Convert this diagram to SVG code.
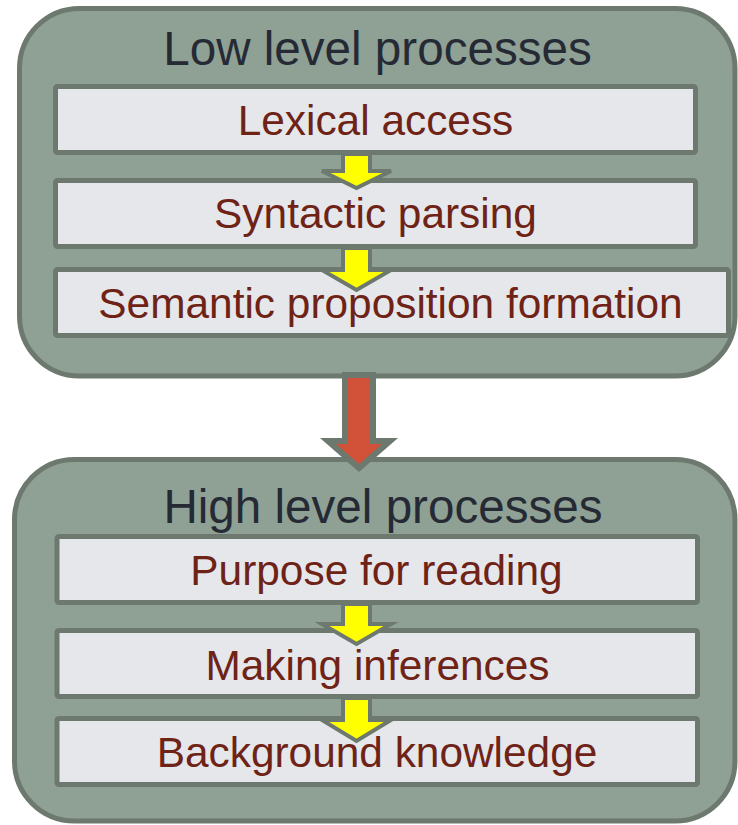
<svg xmlns="http://www.w3.org/2000/svg" width="738" height="825" viewBox="0 0 738 825">
<style>
.cont{fill:#8fa094;stroke:#6d786e;stroke-width:5}
.box{fill:#e6e7eb;stroke:#6d786e;stroke-width:5}
.title{font-family:"Liberation Sans",Arial,sans-serif;font-size:47.6px;fill:#252a35;text-anchor:middle}
.lbl{font-family:"Liberation Sans",Arial,sans-serif;font-size:42.4px;fill:#6e2316;text-anchor:middle}
.ya{fill:#ffff00;stroke:#6d786e;stroke-width:4;stroke-linejoin:miter}
.ra{fill:#d15239;stroke:#6d786e;stroke-width:6;stroke-linejoin:miter}
</style>
<rect width="738" height="825" fill="#ffffff"/>
<g id="low">
<rect class="cont" x="19.5" y="8.5" width="715.5" height="367.5" rx="60" ry="60"/>
<text class="title" x="377.5" y="65">Low level processes</text>
</g>
<g id="high">
<rect class="cont" x="14.5" y="459.5" width="720.5" height="361.5" rx="60" ry="60"/>
<text class="title" x="383" y="523">High level processes</text>
</g>
<g id="lexical">
<rect class="box" x="55.5" y="86.5" width="640" height="66" rx="2"/>
<text class="lbl" x="375.5" y="135">Lexical access</text>
</g>
<g id="syntactic">
<rect class="box" x="55.5" y="180.5" width="640" height="66" rx="2"/>
<text class="lbl" x="375.5" y="228">Syntactic parsing</text>
</g>
<g id="semantic">
<rect class="box" x="55.5" y="269.5" width="673" height="66" rx="2"/>
<text class="lbl" x="390.5" y="318">Semantic proposition formation</text>
</g>
<g id="purpose">
<rect class="box" x="57" y="536.5" width="640.5" height="66" rx="2"/>
<text class="lbl" x="376.5" y="585">Purpose for reading</text>
</g>
<g id="inferences">
<rect class="box" x="57" y="630.5" width="640.5" height="66" rx="2"/>
<text class="lbl" x="377.5" y="680">Making inferences</text>
</g>
<g id="background">
<rect class="box" x="57" y="718.5" width="640.5" height="66" rx="2"/>
<text class="lbl" x="377" y="767">Background knowledge</text>
</g>
<g id="connectors">
<polygon class="ya" points="343,154 370,154 370,171 391,171 356.5,188 322,171 343,171"/>
<polygon class="ya" points="343,248 370,248 370,270 391,270 356.5,290 322,270 343,270"/>
<polygon class="ra" points="345,375 373,375 373,441 390,441 359,468 328,441 345,441"/>
<polygon class="ya" points="343,604 370,604 370,624 391,624 356.5,644 322,624 343,624"/>
<polygon class="ya" points="343,698 370,698 370,720 391,720 356.5,741 322,720 343,720"/>
</g>
</svg>
